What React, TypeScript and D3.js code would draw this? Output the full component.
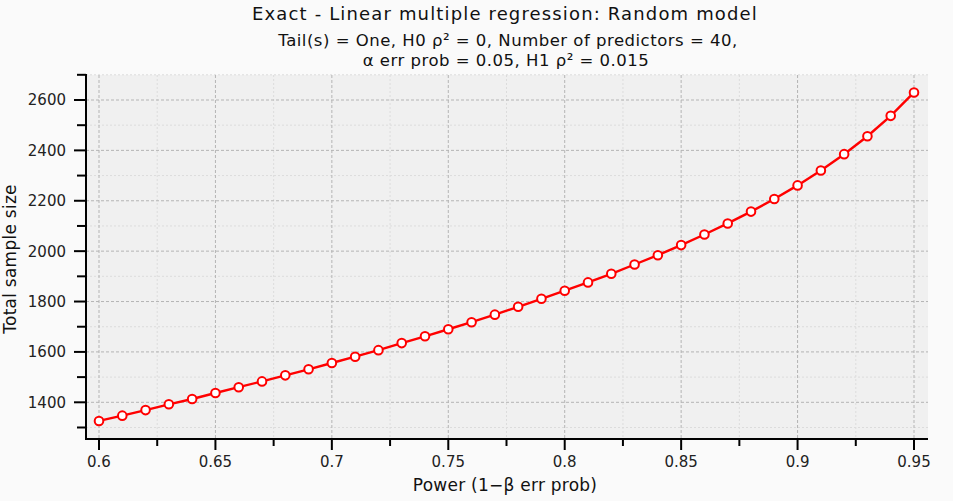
import React, { useEffect, useRef } from 'react';
import * as d3 from 'd3';

const power = [
  0.6, 0.61, 0.62, 0.63, 0.64, 0.65, 0.66, 0.67, 0.68, 0.69, 0.7, 0.71,
  0.72, 0.73, 0.74, 0.75, 0.76, 0.77, 0.78, 0.79, 0.8, 0.81, 0.82, 0.83,
  0.84, 0.85, 0.86, 0.87, 0.88, 0.89, 0.9, 0.91, 0.92, 0.93, 0.94, 0.95,
];
const sampleSize = [
  1326, 1347, 1369, 1392, 1413, 1437, 1460, 1483, 1507, 1531, 1556, 1581,
  1607, 1635, 1662, 1690, 1718, 1748, 1779, 1811, 1843, 1876, 1910, 1947,
  1984, 2024, 2066, 2110, 2157, 2207, 2261, 2320, 2385, 2456, 2537, 2630,
];
const xTicks = [0.6, 0.65, 0.7, 0.75, 0.8, 0.85, 0.9, 0.95];
const xMinor = [0.625, 0.675, 0.725, 0.775, 0.825, 0.875, 0.925];
const yTicks = [1400, 1600, 1800, 2000, 2200, 2400, 2600];
const yMinor = [1300, 1500, 1700, 1900, 2100, 2300, 2500, 2700];

const titleLines = [
  'Exact - Linear multiple regression: Random model',
  'Tail(s) = One, H0 ρ² = 0, Number of predictors = 40,',
  'α err prob = 0.05, H1 ρ² = 0.015',
];

const W = 953;
const H = 501;

const App = () => {
  const svgRef = useRef<SVGSVGElement>(null);

  useEffect(() => {
    const svg = d3.select(svgRef.current);
    svg.selectAll('*').remove();

    const left = 86, right = 928, top = 75, bottom = 439;
    const x = d3.scaleLinear().domain([0.6, 0.95]).range([99, 914]);
    const y = d3.scaleLinear().domain([1400, 2600]).range([402.3, 100]);

    svg.append('rect').attr('width', W).attr('height', H).attr('fill', '#fafafa');
    svg.append('rect')
      .attr('x', left).attr('y', top)
      .attr('width', right - left).attr('height', bottom - top)
      .attr('fill', '#f0f0f0');

    const font = '"DejaVu Sans", sans-serif';

    // grid
    const grid = svg.append('g');
    xMinor.forEach(v => grid.append('line')
      .attr('x1', x(v)).attr('x2', x(v)).attr('y1', top).attr('y2', bottom)
      .attr('stroke', '#dcdcdc').attr('stroke-dasharray', '2,2'));
    yMinor.forEach(v => grid.append('line')
      .attr('x1', left).attr('x2', right).attr('y1', y(v)).attr('y2', y(v))
      .attr('stroke', '#dcdcdc').attr('stroke-dasharray', '2,2'));
    xTicks.forEach(v => grid.append('line')
      .attr('x1', x(v)).attr('x2', x(v)).attr('y1', top).attr('y2', bottom)
      .attr('stroke', '#b4b4b4').attr('stroke-dasharray', '3,2'));
    yTicks.forEach(v => grid.append('line')
      .attr('x1', left).attr('x2', right).attr('y1', y(v)).attr('y2', y(v))
      .attr('stroke', '#b4b4b4').attr('stroke-dasharray', '3,2'));

    // axes
    const ax = svg.append('g').attr('stroke', '#000').attr('stroke-width', 2);
    ax.append('line').attr('x1', left).attr('x2', left).attr('y1', top - 1).attr('y2', bottom + 1);
    ax.append('line').attr('x1', left - 1).attr('x2', right).attr('y1', bottom).attr('y2', bottom);
    yTicks.forEach(v => ax.append('line').attr('x1', left - 12).attr('x2', left).attr('y1', y(v)).attr('y2', y(v)));
    yMinor.forEach(v => ax.append('line').attr('x1', left - 9).attr('x2', left).attr('y1', y(v)).attr('y2', y(v)));
    xTicks.forEach(v => ax.append('line').attr('x1', x(v)).attr('x2', x(v)).attr('y1', bottom).attr('y2', bottom + 11));
    xMinor.forEach(v => ax.append('line').attr('x1', x(v)).attr('x2', x(v)).attr('y1', bottom).attr('y2', bottom + 7));

    yTicks.forEach(v => svg.append('text')
      .attr('x', left - 20).attr('y', y(v)).attr('dy', '0.36em')
      .attr('text-anchor', 'end').attr('font-family', font).attr('font-size', 15)
      .attr('fill', '#222').text(String(v)));
    xTicks.forEach(v => svg.append('text')
      .attr('x', x(v)).attr('y', 467)
      .attr('text-anchor', 'middle').attr('font-family', font).attr('font-size', 15)
      .attr('fill', '#222').text(String(v)));

    svg.append('text')
      .attr('x', 505).attr('y', 491).attr('text-anchor', 'middle')
      .attr('font-family', font).attr('font-size', 17).attr('letter-spacing', 0.25)
      .attr('fill', '#111')
      .text('Power (1−β err prob)');
    svg.append('text')
      .attr('transform', 'translate(16,259) rotate(-90)').attr('text-anchor', 'middle')
      .attr('font-family', font).attr('font-size', 17).attr('letter-spacing', 0.25)
      .attr('fill', '#111')
      .text('Total sample size');

    // titles
    svg.append('text').attr('x', 505).attr('y', 19.5).attr('text-anchor', 'middle')
      .attr('font-family', font).attr('font-size', 18).attr('letter-spacing', 1.15)
      .attr('fill', '#111').text(titleLines[0]);
    svg.append('text').attr('x', 508).attr('y', 45.5).attr('text-anchor', 'middle')
      .attr('font-family', font).attr('font-size', 16.5).attr('letter-spacing', 0.5)
      .attr('fill', '#111').text(titleLines[1]);
    svg.append('text').attr('x', 506).attr('y', 66).attr('text-anchor', 'middle')
      .attr('font-family', font).attr('font-size', 16.5).attr('letter-spacing', 0.5)
      .attr('fill', '#111').text(titleLines[2]);

    // series
    const pts = power.map((p, i) => [p, sampleSize[i]] as [number, number]);
    const line = d3.line<[number, number]>().x(d => x(d[0])).y(d => y(d[1]));
    svg.append('path').datum(pts)
      .attr('fill', 'none').attr('stroke', '#ff0000').attr('stroke-width', 2.4)
      .attr('d', line);
    svg.selectAll('circle.pt').data(pts).enter().append('circle')
      .attr('class', 'pt')
      .attr('cx', d => x(d[0])).attr('cy', d => y(d[1])).attr('r', 4.3)
      .attr('fill', '#fff').attr('stroke', '#ff0000').attr('stroke-width', 2);
  }, []);

  return (
    <svg ref={svgRef} width={W} height={H}
      style={{ position: 'absolute', left: 0, top: 0, display: 'block' }} />
  );
};

export default App;
